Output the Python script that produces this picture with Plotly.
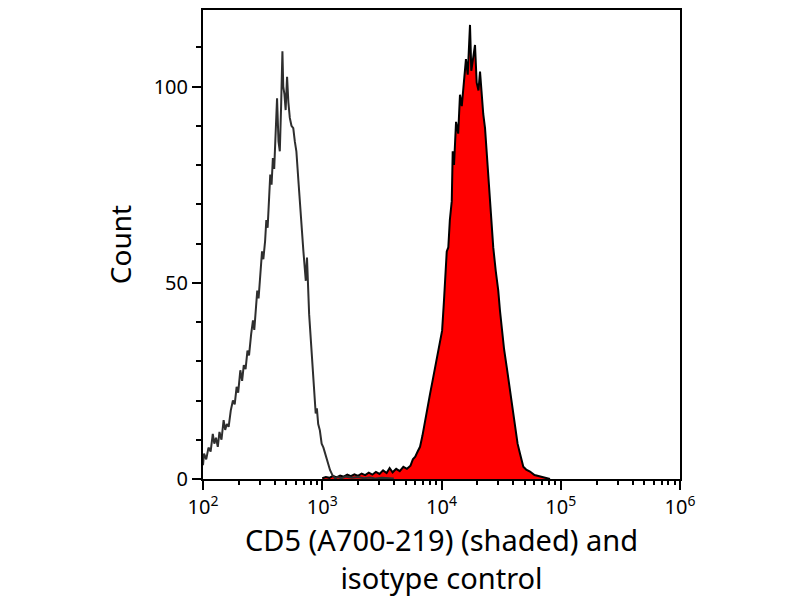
import plotly.graph_objects as go

# isotype control (open histogram) - log10 of intensity, count
iso_log = [2.000, 2.009, 2.027, 2.046, 2.064, 2.082, 2.095, 2.109, 2.124, 2.138,
           2.155, 2.173, 2.186, 2.200, 2.215, 2.233, 2.251, 2.266, 2.282, 2.295,
           2.313, 2.328, 2.342, 2.357, 2.373, 2.386, 2.404, 2.419, 2.430, 2.442,
           2.455, 2.466, 2.482, 2.495, 2.506, 2.521, 2.531, 2.542, 2.555, 2.564,
           2.575, 2.586, 2.597, 2.610, 2.621, 2.633, 2.644, 2.655, 2.666, 2.673,
           2.683, 2.693, 2.705, 2.716, 2.728, 2.742, 2.757, 2.770, 2.783, 2.800,
           2.815, 2.830, 2.842, 2.862, 2.872, 2.890, 2.912, 2.928, 2.945, 2.955,
           2.966, 2.980, 2.995, 3.010, 3.030, 3.045, 3.065, 3.085, 3.107, 3.130,
           3.160, 3.200, 3.250, 3.300, 3.350, 3.400, 3.450, 3.500, 3.550, 3.600]
iso_count = [3.5, 6.5, 5.0, 8.0, 7.0, 11.5, 9.0, 10.5, 8.2, 12.0,
             10.0, 15.0, 12.5, 14.0, 13.3, 17.5, 20.0, 19.0, 23.5, 22.0,
             27.7, 25.0, 29.0, 28.0, 32.7, 31.5, 37.0, 40.4, 38.0, 44.0,
             48.0, 46.0, 53.9, 58.0, 56.0, 60.7, 66.0, 64.0, 72.0, 77.6,
             75.0, 81.8, 79.0, 88.0, 97.0, 86.0, 83.5, 95.0, 109.0, 100.0,
             98.0, 94.0, 102.5, 96.0, 92.0, 90.0, 89.4, 86.0, 83.5, 76.0,
             69.0, 63.0, 58.0, 50.5, 56.4, 42.0, 31.9, 24.0, 16.7, 18.0,
             14.0, 12.4, 9.0, 8.0, 5.7, 4.0, 2.3, 1.0, 0.2, 0.5,
             0.2, 0.6, 0.3, 0.5, 0.2, 0.4, 0.1, 0.3, 0.2, 0.1]

# CD5 (A700-219) stained (shaded histogram)
cd5_log = [3.000, 3.030, 3.060, 3.090, 3.120, 3.150, 3.180, 3.210, 3.240, 3.270,
           3.300, 3.330, 3.360, 3.390, 3.420, 3.450, 3.480, 3.510, 3.540, 3.565,
           3.590, 3.620, 3.650, 3.680, 3.710, 3.740, 3.760, 3.780, 3.800, 3.820,
           3.840, 3.862, 3.880, 3.904, 3.925, 3.946, 3.965, 3.985, 4.005, 4.020,
           4.044, 4.057, 4.070, 4.086, 4.094, 4.105, 4.122, 4.140, 4.155, 4.170,
           4.190, 4.205, 4.220, 4.239, 4.250, 4.265, 4.281, 4.295, 4.310, 4.323,
           4.337, 4.350, 4.365, 4.379, 4.395, 4.407, 4.420, 4.434, 4.455, 4.476,
           4.490, 4.505, 4.525, 4.547, 4.568, 4.589, 4.605, 4.616, 4.638, 4.658,
           4.672, 4.686, 4.710, 4.742, 4.780, 4.826, 4.870, 4.910]
cd5_count = [0.2, 0.5, 0.3, 0.8, 0.4, 0.9, 0.6, 1.1, 0.7, 1.2,
             0.8, 1.4, 1.0, 1.6, 1.1, 1.8, 1.3, 2.2, 1.5, 2.8,
             1.7, 2.6, 2.0, 3.1, 2.6, 3.4, 5.0, 5.7, 7.0, 8.2,
             11.0, 15.0, 17.5, 21.7, 25.0, 28.5, 31.0, 35.0, 37.8, 45.0,
             58.0, 59.0, 66.0, 70.8, 83.5, 80.0, 91.0, 88.0, 97.9, 95.0,
             102.0, 107.0, 103.0, 115.7, 104.0, 108.0, 110.6, 101.0, 99.0, 103.8,
             97.9, 93.0, 89.4, 83.5, 77.0, 70.8, 65.0, 59.0, 53.0, 48.0,
             43.0, 37.8, 33.0, 28.5, 24.0, 19.2, 15.0, 12.4, 9.0, 6.5,
             4.5, 3.1, 2.4, 1.9, 1.0, 0.6, 0.2, 0.0]

x_tickvals = [1e2, 1e3, 1e4, 1e5, 1e6]
x_ticktext = ["10<sup>2</sup>", "10<sup>3</sup>", "10<sup>4</sup>",
              "10<sup>5</sup>", "10<sup>6</sup>"]
x_minor = [m * 10 ** e for e in range(2, 6) for m in range(2, 10)]

fig = go.Figure()

fig.add_trace(go.Scatter(
    x=[10 ** v for v in cd5_log], y=cd5_count,
    mode="lines", fill="tozeroy", fillcolor="#ff0000",
    line=dict(color="#000000", width=2),
    showlegend=False,
))

fig.add_trace(go.Scatter(
    x=[10 ** v for v in iso_log], y=iso_count,
    mode="lines",
    line=dict(color="#2e2e2e", width=2),
    showlegend=False,
))

font_family = "Noto Sans"

fig.update_xaxes(
    type="log", range=[2, 6],
    tickvals=x_tickvals, ticktext=x_ticktext,
    ticks="outside", ticklen=9, tickwidth=2, tickcolor="black",
    minor=dict(tickvals=x_minor, ticks="outside", ticklen=4,
               tickwidth=1.5, tickcolor="black"),
    showline=True, linewidth=2, linecolor="black", mirror=True,
    showgrid=False, zeroline=False,
    tickfont=dict(family=font_family, size=20, color="black"),
    title=dict(text="CD5 (A700-219) (shaded) and<br>isotype control",
               font=dict(family=font_family, size=29, color="black"),
               standoff=12),
)

fig.update_yaxes(
    range=[0, 119.5],
    tickvals=[0, 50, 100],
    ticks="outside", ticklen=9, tickwidth=2, tickcolor="black",
    minor=dict(dtick=10, ticks="outside", ticklen=5,
               tickwidth=1.5, tickcolor="black"),
    showline=True, linewidth=2, linecolor="black", mirror=True,
    showgrid=False, zeroline=False,
    tickfont=dict(family=font_family, size=20, color="black"),
    title=dict(text="Count",
               font=dict(family=font_family, size=28, color="black"),
               standoff=14),
)

fig.update_layout(
    width=800, height=600,
    margin=dict(l=195, r=128, t=0, b=129),
    paper_bgcolor="white", plot_bgcolor="white",
)

fig.write_html("out.html")
